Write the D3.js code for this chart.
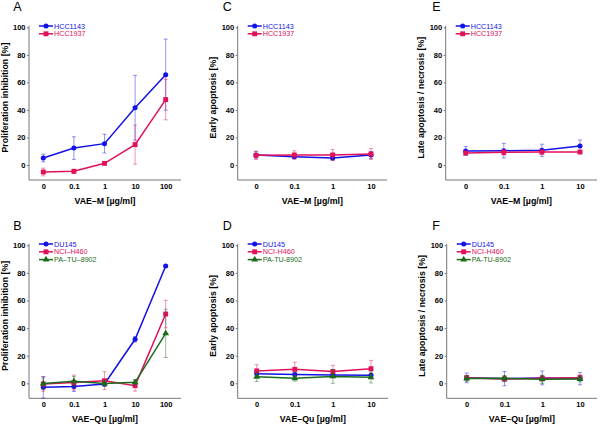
<!DOCTYPE html>
<html><head><meta charset="utf-8">
<script src="https://cdn.jsdelivr.net/npm/d3@7/dist/d3.min.js"></script>
<style>body{margin:0;background:#fff}svg{display:block}text{font-family:"Liberation Sans",Arial,sans-serif}</style>
</head><body><svg id="c" width="600" height="424"></svg>
<script>
// ---- data ----
const dosesM = ["0","0.1","1","10","100"];
const dosesQu = ["0","0.1","1","10","100"];
const dosesApo = ["0","0.1","1","10"];
const yTicks = [0,20,40,60,80,100];

// Panel A: proliferation inhibition, VAE-M
const A_HCC1143 = [5.1,12.3,15.5,41.6,65.6];
const A_HCC1143_err = [2.8,8.2,6.8,23.5,25.8];
const A_HCC1937 = [-5.1,-4.6,1.2,14.8,47.5];
const A_HCC1937_err = [2.8,1.5,1.0,14.2,14.7];
// Panel B: proliferation inhibition, VAE-Qu
const B_DU145 = [-2.9,-2.4,-0.5,31.9,85.0];
const B_DU145_err = [7.8,3.5,1.5,2.0,0.8];
const B_NCIH460 = [-0.5,0.5,1.9,-1.7,50.2];
const B_NCIH460_err = [5.2,5.4,6.5,4.0,10.0];
const B_PATU8902 = [-0.2,1.4,-0.2,0.7,36.2];
const B_PATU8902_err = [4.0,3.5,2.0,2.0,17.5];
// Panel C: early apoptosis, VAE-M
const C_HCC1143 = [7.3,6.0,5.1,7.3];
const C_HCC1143_err = [2.5,1.5,1.5,2.5];
const C_HCC1937 = [7.0,7.3,7.3,8.0];
const C_HCC1937_err = [3.0,3.0,4.0,4.0];
// Panel D: early apoptosis, VAE-Qu
const D_DU145 = [7.0,6.3,6.0,5.8];
const D_DU145_err = [1.5,1.5,1.5,1.5];
const D_NCIH460 = [9.0,10.1,8.5,10.6];
const D_NCIH460_err = [4.5,5.2,4.5,6.0];
const D_PATU8902 = [4.8,3.6,5.0,4.3];
const D_PATU8902_err = [3.5,2.0,5.0,4.0];
// Panel E: late apoptosis / necrosis, VAE-M
const E_HCC1143 = [10.2,10.4,10.7,13.8];
const E_HCC1143_err = [3.3,5.3,4.4,4.4];
const E_HCC1937 = [8.7,9.2,9.4,9.4];
const E_HCC1937_err = [1.0,2.0,1.5,1.0];
// Panel F: late apoptosis / necrosis, VAE-Qu
const F_DU145 = [3.9,3.4,3.9,3.4];
const F_DU145_err = [3.5,5.2,5.0,4.5];
const F_NCIH460 = [4.1,3.1,3.6,4.1];
const F_NCIH460_err = [1.5,2.0,2.0,2.0];
const F_PATU8902 = [3.4,3.6,2.9,3.1];
const F_PATU8902_err = [2.0,2.0,3.0,2.0];

// ---- styles ----
const BLUE = "#1212e6", PINK = "#e0105a", GREEN = "#1c6b1c";
const S = {
  HCC1143:{c:BLUE, m:d3.symbolCircle, s:20},
  HCC1937:{c:PINK, m:d3.symbolSquare, s:24},
  DU145:{c:BLUE, m:d3.symbolCircle, s:20},
  NCIH460:{c:PINK, m:d3.symbolSquare, s:24},
  PATU8902:{c:GREEN, m:d3.symbolTriangle, s:20}
};

const panels = [
  {L:"A", lx:13.3, ly:10.7, ax0:29, ax1:181, cx0:43.3, cx1:165.7, yTop:27.3, yZero:165, cats:dosesM,
   xt:"VAE\u2013M [\u00b5g/ml]", yt:"Proliferation inhibition [%]",
   ser:[["HCC1143","HCC1143",A_HCC1143,A_HCC1143_err],["HCC1937","HCC1937",A_HCC1937,A_HCC1937_err]]},
  {L:"B", lx:13.3, ly:230.3, ax0:29, ax1:181, cx0:43.3, cx1:165.7, yTop:245.3, yZero:383.3, cats:dosesQu,
   xt:"VAE\u2013Qu [\u00b5g/ml]", yt:"Proliferation inhibition [%]",
   ser:[["DU145","DU145",B_DU145,B_DU145_err],["NCIH460","NCI\u2013H460",B_NCIH460,B_NCIH460_err],["PATU8902","PA\u2013TU\u20138902",B_PATU8902,B_PATU8902_err]]},
  {L:"C", lx:222.7, ly:10.7, ax0:237.7, ax1:387, cx0:256, cx1:371, yTop:27.3, yZero:165, cats:dosesApo,
   xt:"VAE\u2013M [\u00b5g/ml]", yt:"Early apoptosis [%]",
   ser:[["HCC1143","HCC1143",C_HCC1143,C_HCC1143_err],["HCC1937","HCC1937",C_HCC1937,C_HCC1937_err]]},
  {L:"D", lx:222.7, ly:230.3, ax0:237.7, ax1:388, cx0:256.7, cx1:371, yTop:245.3, yZero:383.3, cats:dosesApo,
   xt:"VAE\u2013Qu [\u00b5g/ml]", yt:"Early apoptosis [%]",
   ser:[["DU145","DU145",D_DU145,D_DU145_err],["NCIH460","NCI-H460",D_NCIH460,D_NCIH460_err],["PATU8902","PA-TU-8902",D_PATU8902,D_PATU8902_err]]},
  {L:"E", lx:432.3, ly:10.7, ax0:445.7, ax1:597, cx0:465.7, cx1:580, yTop:27.3, yZero:165, cats:dosesApo,
   xt:"VAE\u2013M [\u00b5g/ml]", yt:"Late apoptosis / necrosis [%]",
   ser:[["HCC1143","HCC1143",E_HCC1143,E_HCC1143_err],["HCC1937","HCC1937",E_HCC1937,E_HCC1937_err]]},
  {L:"F", lx:432.3, ly:230.3, ax0:446.7, ax1:597, cx0:466.7, cx1:580, yTop:245.3, yZero:383.3, cats:dosesApo,
   xt:"VAE\u2013Qu [\u00b5g/ml]", yt:"Late apoptosis / necrosis [%]",
   ser:[["DU145","DU145",F_DU145,F_DU145_err],["NCIH460","NCI-H460",F_NCIH460,F_NCIH460_err],["PATU8902","PA-TU-8902",F_PATU8902,F_PATU8902_err]]}
];

const svg = d3.select("#c");

panels.forEach(p => {
  const g = svg.append("g");
  const pxu = (p.yZero - p.yTop)/100;
  const yBot = p.yZero + 10.9*pxu;
  const y = d3.scaleLinear().domain([0,100]).range([p.yZero, p.yTop]);
  const x = d3.scalePoint().domain(p.cats).range([p.cx0, p.cx1]);

  // panel letter
  g.append("text").attr("x", p.lx).attr("y", p.ly).attr("font-size", 12.5).attr("fill","#000").text(p.L);

  // axes lines
  g.append("line").attr("x1", p.ax0).attr("x2", p.ax0).attr("y1", p.yTop-1.5).attr("y2", yBot)
    .attr("stroke","#777").attr("stroke-width",1);
  g.append("line").attr("x1", p.ax0).attr("x2", p.ax1).attr("y1", yBot).attr("y2", yBot)
    .attr("stroke","#777").attr("stroke-width",1);

  const ya = g.append("g").attr("transform", `translate(${p.ax0},0)`)
    .call(d3.axisLeft(y).tickValues(yTicks).tickSize(2).tickSizeOuter(0).tickPadding(1.5));
  ya.select(".domain").remove();
  ya.selectAll("line").attr("stroke","#777");
  ya.selectAll("text").attr("font-size",7.5).attr("font-weight","bold").attr("fill","#000")
    .attr("font-family",'"Liberation Sans",Arial,sans-serif');

  const xa = g.append("g").attr("transform", `translate(0,${yBot})`)
    .call(d3.axisBottom(x).tickSize(0).tickSizeOuter(0).tickPadding(3.5));
  xa.select(".domain").remove();
  xa.selectAll("text").attr("font-size",7.5).attr("font-weight","bold").attr("fill","#000")
    .attr("font-family",'"Liberation Sans",Arial,sans-serif');

  // titles
  g.append("text").attr("x", (p.ax0+p.ax1)/2).attr("y", yBot+24)
    .attr("text-anchor","middle").attr("font-size",8.8).attr("font-weight","bold").text(p.xt);
  const ycen = (p.yTop + yBot)/2 - 6;
  g.append("text").attr("transform", `translate(${p.ax0-24.5},${ycen}) rotate(-90)`)
    .attr("text-anchor","middle").attr("dominant-baseline","central")
    .attr("font-size",8.8).attr("font-weight","bold").text(p.yt);

  // series
  p.ser.forEach(([key, name, vals, errs]) => {
    const st = S[key];
    const sg = g.append("g");
    // error bars
    vals.forEach((v,i) => {
      const cx = x(p.cats[i]);
      const t = y(v+errs[i]), b = y(v-errs[i]);
      sg.append("line").attr("x1",cx).attr("x2",cx).attr("y1",t).attr("y2",b)
        .attr("stroke",st.c).attr("stroke-opacity",0.45).attr("stroke-width",1);
      [t,b].forEach(yy => sg.append("line").attr("x1",cx-2).attr("x2",cx+2).attr("y1",yy).attr("y2",yy)
        .attr("stroke",st.c).attr("stroke-opacity",0.45).attr("stroke-width",1));
    });
    const line = d3.line().x((d,i)=>x(p.cats[i])).y(d=>y(d));
    sg.append("path").datum(vals).attr("d", line).attr("fill","none")
      .attr("stroke",st.c).attr("stroke-width",1.5);
    const sym = d3.symbol().type(st.m).size(st.s);
    vals.forEach((v,i) => {
      sg.append("path").attr("d", sym).attr("transform",`translate(${x(p.cats[i])},${y(v)})`).attr("fill",st.c);
    });
  });

  // legend
  p.ser.forEach(([key, name], i) => {
    const st = S[key];
    const ly = p.yTop - 1.3 + i*7.8;
    const lx0 = p.ax0 + 10;
    g.append("line").attr("x1",lx0).attr("x2",lx0+14).attr("y1",ly).attr("y2",ly)
      .attr("stroke",st.c).attr("stroke-width",1.5);
    g.append("path").attr("d", d3.symbol().type(st.m).size(st.s))
      .attr("transform",`translate(${lx0+7},${ly})`).attr("fill",st.c);
    g.append("text").attr("x",lx0+15).attr("y",ly).attr("dominant-baseline","central")
      .attr("font-size",7.2).attr("fill",st.c).text(name);
  });
});
</script></body></html>
